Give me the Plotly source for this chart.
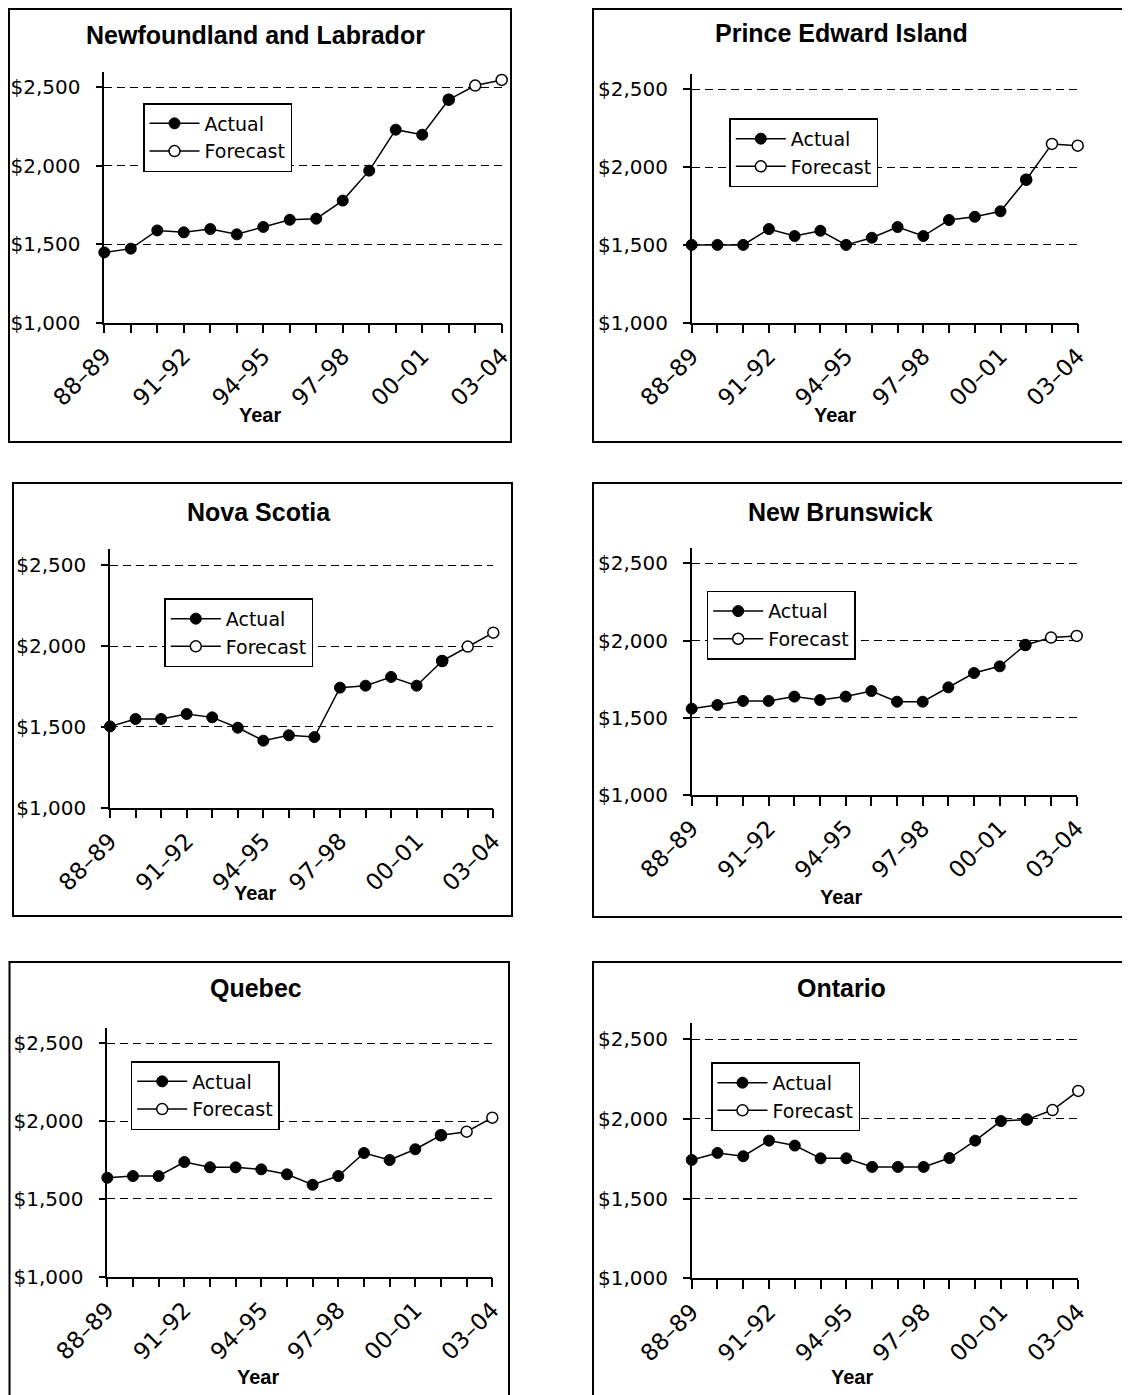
import plotly.graph_objects as go

# ---------------- data ----------------
years = ["88–89", "89–90", "90–91", "91–92", "92–93", "93–94", "94–95", "95–96",
         "96–97", "97–98", "98–99", "99–00", "00–01", "01–02", "02–03", "03–04"]
label_every = 3
provinces = ["Newfoundland and Labrador", "Prince Edward Island", "Nova Scotia",
             "New Brunswick", "Quebec", "Ontario"]

nl_actual = [1448, 1472, 1588, 1576, 1597, 1563, 1610, 1656, 1663, 1778, 1969, 2230, 2198, 2421]
nl_forecast = [2511, 2547]
pei_actual = [1500, 1500, 1500, 1602, 1557, 1591, 1500, 1546, 1615, 1557, 1660, 1681, 1716, 1919]
pei_forecast = [2149, 2138]
ns_actual = [1503, 1549, 1549, 1580, 1559, 1495, 1415, 1448, 1437, 1743, 1755, 1809, 1755, 1908]
ns_forecast = [1997, 2083]
nb_actual = [1559, 1583, 1609, 1609, 1637, 1615, 1637, 1673, 1604, 1604, 1697, 1790, 1833, 1971]
nb_forecast = [2019, 2030]
qc_actual = [1636, 1647, 1647, 1737, 1703, 1703, 1690, 1658, 1591, 1647, 1795, 1750, 1819, 1909]
qc_forecast = [1932, 2022]
on_actual = [1743, 1787, 1766, 1864, 1833, 1753, 1753, 1699, 1699, 1699, 1755, 1864, 1987, 1996]
on_forecast = [2056, 2176]

actual_series = [nl_actual, pei_actual, ns_actual, nb_actual, qc_actual, on_actual]
forecast_series = [nl_forecast, pei_forecast, ns_forecast, nb_forecast, qc_forecast, on_forecast]

y_ticks = [1000, 1500, 2000, 2500]
y_ticktext = ["$1,000", "$1,500", "$2,000", "$2,500"]
y_max = 2600
x_title = "Year"

# ---------------- layout geometry (page pixels) ----------------
OFF = 8                      # default body margin of the page
W, H = 1130 - OFF, 1395 - OFF
def px(x):
    return (x - OFF) / W
def py(y):
    return 1 - (y - OFF) / H

geom = [
    dict(box=(9, 9, 511, 442), ax0=104.3, ax1=501.7, y1000=322.7, y2500=87.3,
         title=(255, 35), year=(260, 415), legend=(143, 103)),
    dict(box=(593, 9, 1140, 442), ax0=691.7, ax1=1077.7, y1000=322.7, y2500=89.3,
         title=(841.7, 33.3), year=(835, 415), legend=(729.3, 118.3)),
    dict(box=(13, 483, 512, 916), ax0=110, ax1=493.3, y1000=807.7, y2500=565.3,
         title=(259, 511.7), year=(255, 892.7), legend=(164.3, 598.3)),
    dict(box=(593, 483, 1140, 917), ax0=691.7, ax1=1076.7, y1000=795, y2500=563.3,
         title=(840, 511.7), year=(841, 896.7), legend=(706.7, 590.7)),
    dict(box=(9.5, 962, 509, 1410), ax0=107.3, ax1=492.3, y1000=1276.7, y2500=1043.3,
         title=(255.8, 988.3), year=(257.7, 1376.7), legend=(130.7, 1061)),
    dict(box=(593, 962, 1140, 1410), ax0=691.7, ax1=1078.3, y1000=1278.3, y2500=1039.3,
         title=(841.7, 988.3), year=(851.7, 1376.7), legend=(711, 1062.3)),
]

FONT = "DejaVu Sans"
TITLE_FONT = "Liberation Sans"

fig = go.Figure()
layout = dict(template="none", width=W, height=H, autosize=False,
              margin=dict(l=0, r=0, t=0, b=0, pad=0),
              paper_bgcolor="white", plot_bgcolor="white",
              font=dict(family=FONT, size=20, color="black"),
              shapes=[], annotations=[])

xidx = list(range(len(years)))
ticktext = [y if i % label_every == 0 else "" for i, y in enumerate(years)]

for i, g in enumerate(geom):
    n = i + 1
    xa = "x" if n == 1 else f"x{n}"
    ya = "y" if n == 1 else f"y{n}"
    lg = "legend" if n == 1 else f"legend{n}"
    act = actual_series[i]
    fc = forecast_series[i]
    na = len(act)

    # forecast (drawn first, joined to last actual point)
    fx = xidx[na - 1:na + len(fc)]
    fy = [act[-1]] + fc
    fig.add_trace(go.Scatter(
        x=fx, y=fy, mode="lines+markers", name="Forecast",
        line=dict(color="black", width=1.5),
        marker=dict(symbol="circle", size=11, color="white",
                    line=dict(color="black", width=1.5)),
        xaxis=xa, yaxis=ya, legend=lg, legendrank=2, cliponaxis=False))
    fig.add_trace(go.Scatter(
        x=xidx[:na], y=act, mode="lines+markers", name="Actual",
        line=dict(color="black", width=1.5),
        marker=dict(symbol="circle", size=11, color="black",
                    line=dict(color="black", width=1)),
        xaxis=xa, yaxis=ya, legend=lg, legendrank=1, cliponaxis=False))

    top_px = g["y2500"] - (y_max - 2500) * (g["y1000"] - g["y2500"]) / 1500
    xkey = "xaxis" if n == 1 else f"xaxis{n}"
    ykey = "yaxis" if n == 1 else f"yaxis{n}"
    layout[xkey] = dict(
        domain=[px(g["ax0"]), px(g["ax1"])], anchor=ya, range=[0, len(years) - 1],
        automargin=False,
        tickmode="array", tickvals=xidx, ticktext=ticktext, tickangle=-45,
        ticks="outside", ticklen=9, tickwidth=1.5, tickcolor="black",
        showline=True, linecolor="black", linewidth=1.5, showgrid=False,
        zeroline=False, tickfont=dict(family=FONT, size=23, color="black"))
    layout[ykey] = dict(
        domain=[py(g["y1000"]), py(top_px)], anchor=xa, range=[1000, y_max],
        automargin=False,
        tickmode="array", tickvals=y_ticks, ticktext=y_ticktext,
        ticks="outside", ticklen=7, tickwidth=1.5, tickcolor="black",
        showline=True, linecolor="black", linewidth=1.5,
        showgrid=True, gridcolor="black", gridwidth=1, griddash="8px,5px",
        zeroline=False, ticklabelstandoff=11,
        tickfont=dict(family=FONT, size=20, color="black"))
    layout[lg] = dict(
        x=px(g["legend"][0]), y=py(g["legend"][1]), xanchor="left", yanchor="top",
        bgcolor="white", bordercolor="black", borderwidth=1.5,
        font=dict(family=FONT, size=19, color="black"), itemwidth=50,
        traceorder="normal", tracegroupgap=0)

    x0, y0, x1, y1 = g["box"]
    layout["shapes"].append(dict(
        type="rect", xref="paper", yref="paper",
        x0=px(x0), x1=px(x1), y0=py(y1), y1=py(y0),
        line=dict(color="black", width=2), layer="below"))
    layout["annotations"].append(dict(
        text=f"<b>{provinces[i]}</b>", xref="paper", yref="paper",
        x=px(g["title"][0]), y=py(g["title"][1]), xanchor="center", yanchor="middle",
        showarrow=False, font=dict(family=TITLE_FONT, size=25, color="black")))
    layout["annotations"].append(dict(
        text=f"<b>{x_title}</b>", xref="paper", yref="paper",
        x=px(g["year"][0]), y=py(g["year"][1]), xanchor="center", yanchor="middle",
        showarrow=False, font=dict(family=TITLE_FONT, size=20, color="black")))

fig.update_layout(**layout)
fig.write_html("out.html")
